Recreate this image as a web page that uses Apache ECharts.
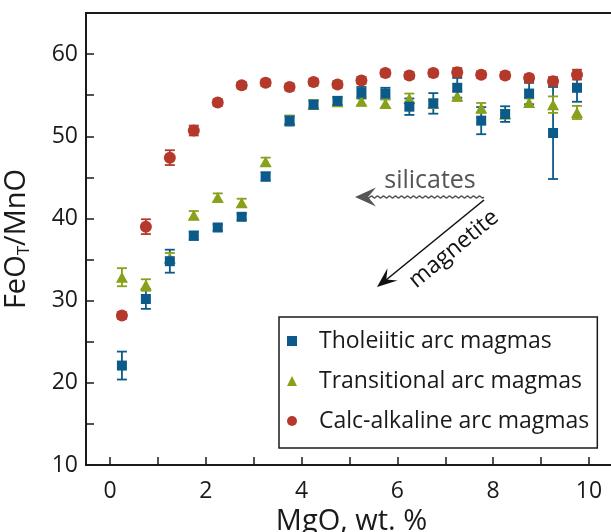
<!DOCTYPE html>
<html><head><meta charset="utf-8">
<script src="https://cdn.jsdelivr.net/npm/echarts@6/dist/echarts.min.js"></script>
<style>html,body{margin:0;padding:0;background:#fff}#c{width:611px;height:532px}</style>
</head><body><div id="c"></div>
<script>
const mgo = [0.25,0.75,1.25,1.75,2.25,2.75,3.25,3.75,4.25,4.75,5.25,5.75,6.25,6.75,7.25,7.75,8.25,8.75,9.25,9.75];
const tholMean = [22.1,30.2,34.8,37.9,38.9,40.2,45.1,51.9,53.85,54.3,55.3,55.2,53.6,54.0,55.9,51.9,52.7,55.2,50.4,55.9];
const tholErr  = [1.7,1.2,1.4,0.5,0.4,0.4,0.5,0.6,0.5,0.5,0.7,0.7,1.0,1.25,1.2,1.65,0.95,1.3,5.6,1.7];
const tranMean = [32.85,31.9,35.2,40.4,42.55,41.9,46.9,52.0,53.9,54.2,54.25,54.0,54.6,54.0,54.9,53.45,52.7,54.1,53.85,52.9];
const tranErr  = [1.1,0.7,0.6,0.5,0.5,0.5,0.5,0.5,0.5,0.5,0.5,0.5,0.6,0.5,0.6,0.6,0.5,0.5,1.0,0.8];
const calcMean = [28.2,39.0,47.4,50.7,54.1,56.2,56.5,56.0,56.6,56.3,56.8,57.7,57.4,57.7,57.8,57.5,57.4,57.1,56.7,57.5];
const calcErr  = [0.4,0.9,0.9,0.6,0.4,0.4,0.4,0.4,0.4,0.4,0.4,0.4,0.4,0.4,0.5,0.4,0.4,0.4,0.5,0.6];
const xTickValues = [0,1,2,3,4,5,6,7,8,9,10];
const xLabelValues = [0,2,4,6,8,10];
const yTickValues = [10,15,20,25,30,35,40,45,50,55,60];
const yLabelValues = [10,20,30,40,50,60];
const names = ['Tholeiitic arc magmas','Transitional arc magmas','Calc-alkaline arc magmas'];

const FONT = 'Open Sans';
const INK = '#1a1a1a';
const BLUE = '#0b5a8a', GREEN = '#87a11b', RED = '#b5392b';

function errSeries(id, mean, err, color) {
  return {
    type: 'custom', name: id, z: 1, silent: true,
    data: mgo.map((x, i) => [x, mean[i] - err[i], mean[i] + err[i]]),
    encode: { x: 0, y: [1, 2] },
    renderItem(params, api) {
      const x = api.value(0);
      const lo = api.coord([x, api.value(1)]);
      const hi = api.coord([x, api.value(2)]);
      const hw = 5;
      const style = { stroke: color, lineWidth: 1.8, fill: null };
      return { type: 'group', children: [
        { type: 'line', shape: { x1: lo[0], y1: lo[1], x2: hi[0], y2: hi[1] }, style },
        { type: 'line', shape: { x1: lo[0] - hw, y1: lo[1], x2: lo[0] + hw, y2: lo[1] }, style },
        { type: 'line', shape: { x1: hi[0] - hw, y1: hi[1], x2: hi[0] + hw, y2: hi[1] }, style }
      ]};
    }
  };
}
function pts(mean) { return mgo.map((x, i) => [x, mean[i]]); }

// decorative wavy arrow shaft (pixels)
function wavy(x0, x1, y, amp, per) {
  const p = [];
  for (let x = x0; x >= x1; x -= 0.5) p.push([x, y + amp * Math.sin((x0 - x) / per * 2 * Math.PI)]);
  return p;
}
function head(tx, ty, sx, sy, len, hw, notch) {
  const dx = tx - sx, dy = ty - sy, L = Math.hypot(dx, dy);
  const ux = dx / L, uy = dy / L, nx = -uy, ny = ux;
  const bx = tx - len * ux, by = ty - len * uy;
  return [[tx, ty], [bx + hw * nx, by + hw * ny], [tx - notch * ux, ty - notch * uy], [bx - hw * nx, by - hw * ny]];
}

const chart = echarts.init(document.getElementById('c'), null, { renderer: 'canvas' });
chart.setOption({
  animation: false,
  backgroundColor: '#fff',
  grid: { left: 86, top: 13, right: -6, bottom: 67, show: true, borderColor: INK, borderWidth: 2,
          containLabel: false, outerBoundsMode: 'none' },
  xAxis: {
    type: 'value', min: -0.5, max: 10.585,
    axisLine: { show: true, onZero: false, lineStyle: { color: INK, width: 2 } },
    axisTick: { show: true, inside: true, length: 8, customValues: xTickValues, lineStyle: { color: INK, width: 1.5 } },
    axisLabel: { customValues: xLabelValues, fontSize: 23, fontFamily: FONT, color: INK, margin: 15 },
    splitLine: { show: false },
    name: 'MgO, wt. %', nameLocation: 'middle', nameGap: 42, nameMoveOverlap: false,
    nameTextStyle: { fontSize: 29, fontFamily: FONT, color: INK }
  },
  yAxis: {
    type: 'value', min: 10, max: 65,
    axisLine: { show: true, onZero: false, lineStyle: { color: INK, width: 2 } },
    axisTick: { show: true, inside: true, length: 8, customValues: yTickValues, lineStyle: { color: INK, width: 1.5 } },
    axisLabel: { customValues: yLabelValues, fontSize: 23, fontFamily: FONT, color: INK, margin: 8 },
    splitLine: { show: false },
    name: 'FeO{s|T}/MnO', nameLocation: 'middle', nameGap: 53, nameRotate: 90, nameMoveOverlap: false,
    nameTextStyle: { fontSize: 29, fontFamily: FONT, color: INK, lineHeight: 32,
      rich: { s: { fontSize: 17, fontFamily: FONT, color: INK, lineHeight: 12, verticalAlign: 'bottom' } } }
  },
  legend: {
    orient: 'vertical', left: 279, top: 317, data: names, selectedMode: false,
    itemWidth: 10, itemHeight: 10, itemGap: 16,
    padding: [12, 8, 15, 8],
    borderColor: INK, borderWidth: 1.5, borderRadius: 0,
    textStyle: { fontSize: 23, fontFamily: FONT, color: INK, padding: [0, 0, 0, 17], lineHeight: 24 }
  },
  series: [
    errSeries('e1', tholMean, tholErr, BLUE),
    errSeries('e2', tranMean, tranErr, GREEN),
    errSeries('e3', calcMean, calcErr, RED),
    { type: 'scatter', name: names[1], symbol: 'triangle', symbolSize: [12, 11], z: 3, itemStyle: { color: GREEN, opacity: 1 }, data: pts(tranMean) },
    { type: 'scatter', name: names[0], symbol: 'rect', symbolSize: 10, z: 4, itemStyle: { color: BLUE, opacity: 1 }, data: pts(tholMean) },
    { type: 'scatter', name: names[2], symbol: 'circle', symbolSize: 12, z: 5, itemStyle: { color: RED, opacity: 1 }, data: pts(calcMean) }
  ],
  graphic: [
    { type: 'text', x: 430, y: 181, style: { text: 'silicates', font: '25px "Open Sans"', fill: '#555', textAlign: 'center', textVerticalAlign: 'middle', align: 'center', verticalAlign: 'middle' } },
    { type: 'polyline', shape: { points: wavy(484, 368, 197, 0.9, 6) }, style: { stroke: '#555', lineWidth: 1.5, fill: null } },
    { type: 'polygon', shape: { points: head(355, 197, 484, 197, 21, 9.5, 13) }, style: { fill: '#555' } },
    { type: 'line', shape: { x1: 484, y1: 200, x2: 386, y2: 280 }, style: { stroke: '#111', lineWidth: 1.6 } },
    { type: 'polygon', shape: { points: head(377, 287, 484, 200, 20, 8, 12) }, style: { fill: '#111' } },
    { type: 'text', x: 454, y: 249, rotation: 0.69, style: { text: 'magnetite', font: '23px "Open Sans"', fill: '#111', textAlign: 'center', textVerticalAlign: 'middle', align: 'center', verticalAlign: 'middle' } }
  ]
});
</script></body></html>
